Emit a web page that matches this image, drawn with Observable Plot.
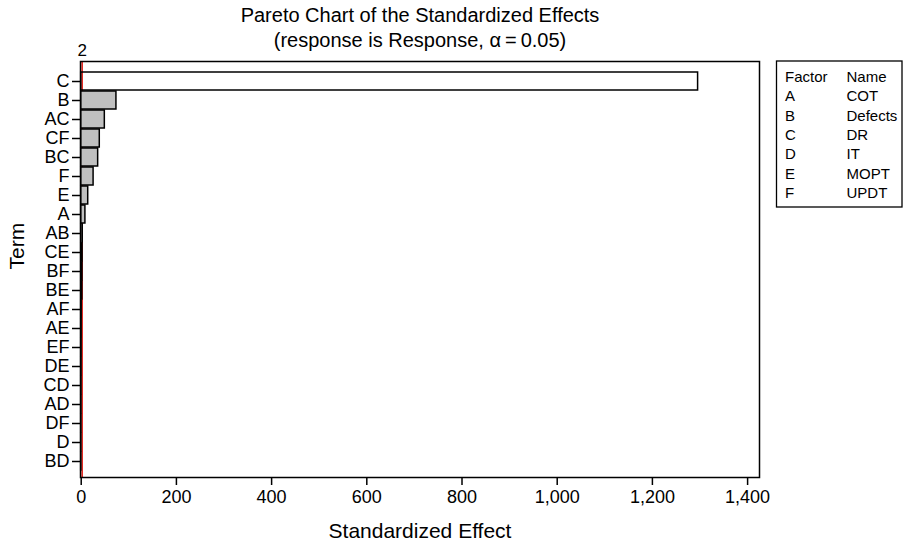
<!DOCTYPE html>
<html>
<head>
<meta charset="utf-8">
<script src="https://cdn.jsdelivr.net/npm/d3@7"></script>
<script src="https://cdn.jsdelivr.net/npm/@observablehq/plot@0.6"></script>
<style>
  html, body { margin: 0; padding: 0; background: white; }
</style>
</head>
<body>
<div id="chart"></div>
<script>
// Terms in Pareto order and their standardized effects
const terms = ["C","B","AC","CF","BC","F","E","A","AB","CE","BF","BE","AF","AE","EF","DE","CD","AD","DF","D","BD"];
const effects = [1296, 74, 49.6, 39, 35.6, 26, 14.7, 8.8, 3.2, 2.9, 2.6, 2.3, 1.0, 0.9, 0.8, 0.7, 0.6, 0.5, 0.4, 0.3, 0.2];
const criticalValue = [2];
const xTicks = [0, 200, 400, 600, 800, 1000, 1200, 1400];
const legendFactors = ["A","B","C","D","E","F"];
const legendNames = ["COT","Defects","DR","IT","MOPT","UPDT"];
const titleLines = ["Pareto Chart of the Standardized Effects", "(response is Response, \u03b1\u2009=\u20090.05)"];

const data = terms.map((t, i) => ({term: t, effect: effects[i]}));
const font = "'Liberation Sans', Arial, Helvetica, sans-serif";

const chart = Plot.plot({
  width: 906,
  height: 543,
  marginLeft: 80,
  marginRight: 147,
  marginTop: 61,
  marginBottom: 66,
  style: {fontFamily: font, fontSize: "18px", background: "white", color: "black"},
  x: {domain: [-1.5, 1425]},
  y: {type: "band", domain: terms, range: [66.9, 474.3], paddingInner: 0.07, paddingOuter: 0.035},
  marks: [
    Plot.ruleX(criticalValue, {x: d => d, stroke: "#e3231b", strokeWidth: 1.6}),
    Plot.barX(data.filter(d => d.term !== "C"), {y: "term", x: "effect", fill: "#c0c0c0", stroke: "black", strokeWidth: 1.5}),
    Plot.barX(data.filter(d => d.term === "C"), {y: "term", x: "effect", fill: "none", stroke: "black", strokeWidth: 1.5}),
    Plot.frame({stroke: "black", strokeWidth: 1.5}),
    Plot.axisX({ticks: xTicks, tickSize: 8, tickPadding: 5, tickFormat: d3.format(","), label: null, strokeWidth: 1.5, fontSize: 18}),
    Plot.axisY({tickSize: 8, tickPadding: 3, label: null, strokeWidth: 1.5, fontSize: 18}),
    Plot.text(criticalValue, {x: d => d, frameAnchor: "top", lineAnchor: "middle", dy: -11, text: d => String(d), fontSize: 17}),
    Plot.text([titleLines[0]], {frameAnchor: "top", lineAnchor: "middle", dy: -46, text: d => d, fontSize: 20}),
    Plot.text([titleLines[1]], {frameAnchor: "top", lineAnchor: "middle", dy: -21, text: d => d, fontSize: 20}),
    Plot.text(["Standardized Effect"], {frameAnchor: "bottom", lineAnchor: "middle", dy: 54, text: d => d, fontSize: 21}),
    Plot.text(["Term"], {frameAnchor: "left", lineAnchor: "middle", dx: -63, rotate: -90, text: d => d, fontSize: 21})
  ]
});

document.getElementById("chart").appendChild(chart);

// Factor / Name legend box to the right of the plot
const svg = d3.select(chart);
const g = svg.append("g")
  .attr("font-family", font)
  .attr("font-size", 15)
  .attr("text-anchor", "start")
  .attr("fill", "black");
g.append("rect")
  .attr("x", 776.5).attr("y", 61).attr("width", 125.5).attr("height", 146)
  .attr("fill", "white").attr("stroke", "black").attr("stroke-width", 1.3);
const rows = [["Factor", "Name"]].concat(legendFactors.map((f, i) => [f, legendNames[i]]));
rows.forEach((r, i) => {
  const y = 76.6 + i * 19.4;
  g.append("text").attr("x", 785).attr("y", y).attr("dy", "0.35em").attr("text-anchor", "start").style("font-size", "15px").text(r[0]);
  g.append("text").attr("x", 846.5).attr("y", y).attr("dy", "0.35em").attr("text-anchor", "start").style("font-size", "15px").text(r[1]);
});
</script>
</body>
</html>
